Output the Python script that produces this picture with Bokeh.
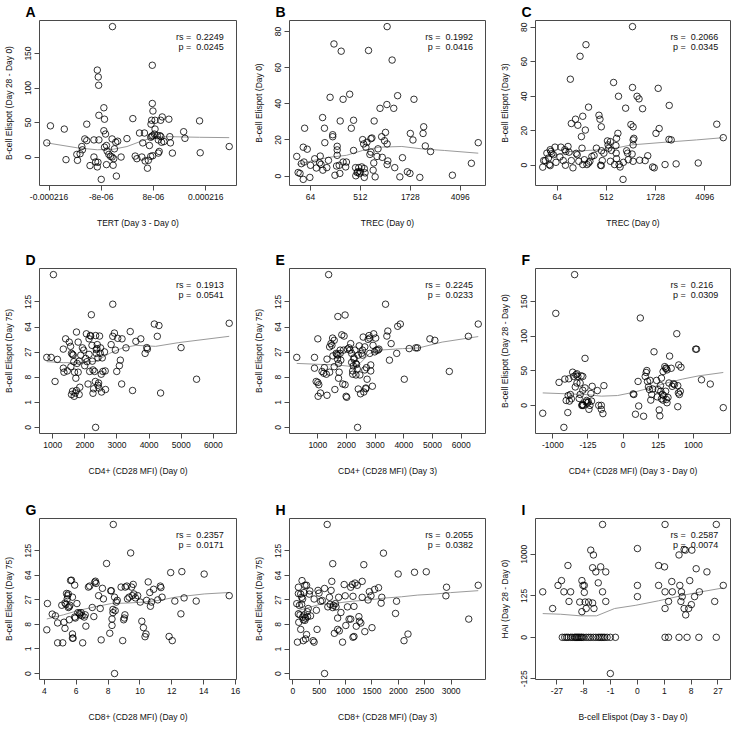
from bokeh.plotting import figure
from bokeh.layouts import gridplot
from bokeh.models import FixedTicker, Label, Range1d
from bokeh.embed import file_html
from bokeh.resources import INLINE

FONT = "Liberation Sans"

# ---------------- Panel A : TERT (cube-root scale) vs B-cell Elispot (Day 28 - Day 0)
a_x = [-0.0617, -0.0589, -0.0483, -0.0470, -0.0387, -0.0349, -0.0344, -0.0362, -0.0382, -0.0311,
       -0.0326, -0.0311, -0.0286, -0.0256, -0.0256, -0.0243, -0.0230, -0.0225, -0.0218, -0.0230,
       -0.0223, -0.0220, -0.0218, -0.0180, -0.0175, -0.0180, -0.0167, -0.0200, -0.0175, -0.0160,
       -0.0155, -0.0142, -0.0129, -0.0117, -0.0104, -0.0099, -0.0117, -0.0089, -0.0074, -0.0084,
       -0.0160, -0.0109, -0.0048, -0.0114, -0.0003, 0.0042, 0.0060, 0.0073, 0.0093, 0.0111,
       0.0118, 0.0131, 0.0136, 0.0154, 0.0161, 0.0169, 0.0179, 0.0186, 0.0194, 0.0179,
       0.0194, 0.0191, 0.0191, 0.0196, 0.0186, 0.0212, 0.0181, 0.0212, 0.0207, 0.0229,
       0.0249, 0.0257, 0.0237, 0.0237, 0.0244, 0.0255, 0.0267, 0.0280, 0.0262, 0.0318,
       0.0325, 0.0330, 0.0345, 0.0431, 0.0441, 0.0553, 0.0558, 0.0780]
a_y = [20.5, 45.2, 40.5, -3.8, 3.8, 15.2, 10.5, 4.8, -4.8, 47.6,
       26.2, 23.8, -12.4, 0, 24.8, -7.1, -14.3, -7.6, 24.8, 126,
       116, 104, 60.5, 71.4, 54.8, 38.1, 33.3, -32.4, 14.3, 16.7,
       8.6, 3.8, 1, 0, -2.4, 11.9, 26.2, 21.4, 22.9, -27.6,
       -11, -11.9, 0, 189, 26.7, 55.7, 1.4, -2.4, 34.8, 0,
       20.5, 34.8, -5.7, -16.2, -4.8, 16.7, 28.6, 30, 31, 1,
       1.9, 133, 77.6, 66.7, 53.3, 53.3, 47.6, 40.5, 33.3, 31,
       31, 29.5, 24.8, 5.7, 8.1, 53.3, 58.1, 22.4, 21.4, 54.8,
       29.5, 20.5, 5.7, 36.7, 27.1, 52.4, 6.2, 15.2]
a_fit_x = [-0.0617, -0.0382, -0.0230, -0.0104, -0.0003, 0.0098, 0.0199, 0.0325, 0.0553, 0.0780]
a_fit_y = [20.5, 13.3, 10.5, 11.4, 15.2, 22.4, 28.6, 29.5, 28.6, 28.1]
a_xticks = [-0.06, -0.02, 0.02, 0.06]
a_xlabels = ["-0.000216", "-8e-06", "8e-06", "0.000216"]
a_yticks = [0, 50, 100, 150]

# ---------------- Panel B : TREC Day 0 (cube-root) vs B-cell Elispot Day 0
b_x = [2.90, 3.01, 3.16, 3.27, 3.42, 3.48, 3.53, 3.42, 3.74, 3.95,
       4.00, 4.34, 4.47, 4.78, 4.73, 4.84, 4.97, 4.99, 5.12, 5.15,
       5.31, 5.57, 5.44, 5.78, 5.78, 6.14, 6.14, 6.14, 6.09, 5.96,
       5.88, 6.38, 6.46, 6.35, 6.30, 6.61, 6.61, 6.82, 6.88, 7.14,
       7.27, 7.45, 7.45, 7.61, 7.63, 7.74, 7.87, 7.79, 7.92, 8.00,
       8.10, 8.18, 8.26, 8.31, 8.37, 8.31, 8.44, 8.52, 8.65, 8.76,
       8.84, 8.84, 8.92, 9.02, 9.10, 9.07, 9.18, 9.33, 9.41, 9.57,
       9.70, 9.75, 9.93, 10.01, 10.12, 10.14, 10.14, 10.20, 10.14, 10.54,
       10.67, 10.75, 10.98, 11.16, 11.37, 11.76, 11.97, 12.00, 12.21, 12.29,
       12.76, 13.07, 13.02, 13.20, 13.62, 15.37, 16.89, 17.44]
b_y = [10.9, 2.0, 1.5, 6.9, -1.8, 7.8, 26.5, 16.0, 14.9, -0.7,
       6.0, 9.6, 4.5, 11.1, 7.3, 6.5, 32.4, 3.3, 26.5, 18.5,
       4.7, 43.6, 8.7, 22.9, 21.8, 16.5, 14.5, 11.5, 5.6, 0.5,
       73.1, 30.5, 69.1, 1.5, 6.0, 42.5, 7.8, 5.1, 7.8, 45.3,
       26.5, 30.9, 14.2, 4.7, 0.2, 2.0, 4.7, 2.4, 1.5, 2.4,
       5.1, 20.2, 17.8, 4.2, 1.8, -0.7, 16.0, 18.7, 69.5, 12.0,
       20.7, 13.3, 21.1, 3.3, 30.5, 7.3, -0.4, 10.9, 15.1, 37.5,
       21.8, 10.4, 19.6, 24.2, 39.6, 82.7, 17.8, 8.4, 6.4, 64.2,
       37.5, 4.7, 44.5, -0.4, 10.2, 2.4, 1.5, 23.6, 20.0, 42.5,
       -0.7, 27.3, 23.6, 16.7, 13.6, 0.5, 7.1, 18.5]
b_fit_x = [2.95, 4.26, 5.57, 6.88, 8.18, 9.49, 11.32, 12.89, 14.72, 17.44]
b_fit_y = [6.5, 8.7, 10.5, 11.5, 14.2, 16.0, 16.4, 15.1, 14.2, 12.7]
trec_ticks = [4, 8, 12, 16]
trec_labels = ["64", "512", "1728", "4096"]
bc_yticks = [0, 20, 40, 60, 80]

# ---------------- Panel C : TREC Day 0 (cube-root) vs B-cell Elispot Day 3
c_x = [2.81, 2.89, 3.02, 3.15, 3.28, 3.36, 3.42, 3.42, 3.47, 3.55,
       3.68, 3.89, 3.81, 4.21, 4.29, 4.48, 4.61, 4.66, 4.69, 4.87,
       4.95, 5.06, 5.14, 5.14, 5.27, 5.48, 5.54, 5.62, 5.67, 5.75,
       5.85, 5.96, 6.01, 6.07, 6.07, 6.20, 6.33, 6.28, 6.41, 6.54,
       6.54, 6.65, 6.81, 6.99, 7.18, 7.39, 7.47, 7.52, 7.58, 7.58,
       7.60, 7.66, 7.79, 8.08, 8.13, 8.19, 8.32, 8.32, 8.40, 8.58,
       8.66, 8.77, 8.79, 8.82, 8.82, 8.93, 8.98, 9.03, 9.11, 9.35,
       9.38, 9.56, 9.64, 9.72, 9.77, 9.99, 10.09, 10.12, 10.17, 10.17,
       10.17, 10.17, 10.12, 10.23, 10.49, 10.65, 10.70, 10.94, 11.15, 11.36,
       11.76, 11.89, 12.03, 12.21, 12.29, 12.77, 13.11, 13.09, 13.27, 13.67,
       15.47, 16.98, 17.51]
c_y = [-1.1, 2.7, 2.7, 7.0, 4.2, 0.4, 9.0, -0.2, 8.0, 6.7,
       6.1, 1.7, 10.5, 4.8, 10.5, 2.7, 9.0, 0, 8.0, 10.9,
       7.6, 49.9, 24.2, 2.7, -1.5, 26.7, 6.9, 6.1, 23.2, 2.3,
       63.2, 16.6, 9.9, 28.4, 0.4, 3.2, 69.9, 20.4, 0.4, 33.7,
       1.3, 2.3, 5.1, 5.7, 9.9, 29.0, 26.7, 0, 22.3, -0.2,
       8.4, 2.7, 7.0, 14.1, 11.8, 9.9, 13.7, 2.3, 8.6, 48.0,
       0.4, 11.4, 7.0, 3.8, 15.6, 18.5, 40.0, 0.4, -1.0, -8.2,
       1.7, 33.1, 8.4, 7.0, 3.2, 23.6, 6.5, 45.1, 22.3, 14.7,
       11.8, 2.3, 80.4, 15.6, 40.0, 38.5, 2.9, 32.8, 2.7, 5.5,
       -1.0, -1.5, 18.5, 44.6, 21.3, 0.4, 34.7, 15.0, 14.7, 0.8,
       1.3, 23.8, 16.0]
c_fit_x = [2.89, 3.95, 5.01, 6.07, 7.39, 8.72, 10.04, 12.69, 15.34, 17.51]
c_fit_y = [4.2, 6.1, 8.0, 8.4, 9.0, 9.9, 11.8, 13.3, 14.7, 16.0]

# ---------------- Panel D : CD4+ CD28 MFI Day 0 vs B-cell Elispot Day 75 (cube-root)
d_x = [815, 949, 1072, 1144, 1329, 1329, 1349, 1401, 1452, 1514,
       1555, 1565, 1585, 1616, 1637, 1657, 1678, 1719, 1739, 1739,
       1760, 1791, 1791, 1822, 1822, 1842, 1873, 1924, 1965, 1996,
       2027, 2048, 2068, 2099, 2130, 2130, 2150, 2171, 2181, 2202,
       2222, 2232, 2253, 2253, 2273, 2304, 2325, 2335, 2356, 2356,
       2376, 2386, 2407, 2407, 2428, 2438, 2458, 2479, 2489, 2510,
       2520, 2541, 2561, 2612, 2633, 2643, 2818, 2869, 2869, 2920,
       2951, 2992, 3023, 3075, 3105, 3146, 3157, 3280, 3413, 3485,
       3588, 3742, 3876, 3927, 3947, 4163, 4256, 4307, 4358, 4995,
       5478, 6494, 1021, 2335, 1585, 1668, 1616, 1698]
d_y = [2.79, 2.79, 1.83, 2.71, 2.36, 3.12, 2.20, 3.53, 2.25, 3.40,
       3.23, 2.42, 2.95, 2.91, 2.88, 2.62, 2.20, 1.96, 1.47, 3.80,
       2.55, 3.40, 2.20, 2.64, 1.31, 1.60, 2.88, 3.17, 3.08, 2.46,
       2.75, 3.73, 2.62, 1.73, 2.91, 3.53, 2.23, 3.66, 3.64, 4.49,
       3.27, 2.64, 2.29, 1.36, 1.54, 2.23, 1.83, 3.66, 3.10, 2.95,
       3.14, 3.30, 2.77, 1.68, 1.77, 1.57, 3.64, 2.95, 3.17, 2.12,
       1.41, 2.77, 2.23, 3.01, 2.25, 1.51, 3.30, 4.91, 3.63, 3.76,
       3.08, 2.23, 3.55, 2.46, 2.68, 1.73, 3.53, 3.17, 3.82, 1.47,
       3.43, 3.53, 2.95, 3.18, 3.12, 4.12, 3.63, 4.06, 1.37, 3.18,
       1.92, 4.15, 6.09, 0.0, 1.31, 1.24, 1.44, 1.37]
d_fit_x = [815, 1329, 1842, 2356, 2767, 3177, 3588, 4204, 4923, 6494]
d_fit_y = [2.62, 2.58, 2.58, 2.64, 2.95, 3.17, 3.27, 3.23, 3.38, 3.63]
d_xticks = [1000, 2000, 3000, 4000, 5000, 6000]
cube_yticks = [0, 1, 2, 3, 4, 5]
cube_ylabels = ["0", "1", "8", "27", "64", "125"]

# ---------------- Panel E : CD4+ CD28 MFI Day 3 vs B-cell Elispot Day 75 (cube-root)
e_x = [264, 883, 883, 941, 998, 998, 1032, 1009, 1090, 1147,
       1204, 1227, 1296, 1319, 1319, 1411, 1411, 1457, 1491, 1514,
       1526, 1571, 1594, 1571, 1640, 1663, 1686, 1698, 1721, 1721,
       1743, 1778, 1778, 1801, 1835, 1870, 1893, 1915, 1950, 1984,
       2007, 1950, 2030, 2088, 2122, 2145, 2179, 2179, 2214, 2214,
       2237, 2260, 2260, 2294, 2328, 2328, 2351, 2374, 2409, 2409,
       2443, 2466, 2489, 2523, 2558, 2558, 2581, 2604, 2638, 2638,
       2673, 2673, 2695, 2718, 2753, 2787, 2810, 2810, 2845, 2845,
       2902, 2925, 2948, 2982, 3017, 3040, 3097, 3131, 2386, 3361,
       3407, 3441, 3498, 3556, 3751, 3785, 3877, 4015, 4187, 4416,
       4473, 4909, 5081, 5586, 6251, 6595, 1376, 1698]
e_y = [2.79, 2.79, 2.36, 1.83, 1.79, 3.53, 1.70, 1.24, 1.37, 2.23,
       2.16, 2.38, 2.12, 2.72, 1.28, 2.20, 3.21, 3.34, 3.27, 3.56,
       2.85, 2.42, 1.51, 3.47, 2.95, 2.91, 2.72, 2.88, 2.55, 1.96,
       2.20, 3.08, 2.95, 2.68, 3.69, 1.73, 3.08, 3.64, 1.70, 1.24,
       1.20, 4.48, 3.12, 3.17, 3.08, 3.34, 2.95, 2.59, 2.25, 2.12,
       2.45, 2.72, 2.77, 3.08, 2.55, 2.09, 2.51, 2.33, 1.53, 2.88,
       3.25, 2.09, 1.34, 2.95, 2.88, 3.08, 3.60, 1.41, 3.21, 2.29,
       1.57, 1.54, 2.38, 1.92, 3.51, 3.66, 3.56, 2.95, 2.25, 2.49,
       1.64, 3.27, 3.73, 3.01, 3.56, 3.08, 3.08, 3.12, 0, 4.91,
       3.64, 3.84, 2.68, 3.34, 2.95, 4.03, 4.12, 1.92, 3.14, 3.17,
       3.17, 3.53, 3.47, 2.23, 3.63, 4.12, 6.09, 4.42]
e_fit_x = [264, 1090, 1663, 2237, 2466, 2810, 3154, 3957, 4530, 5334, 6595]
e_fit_y = [2.55, 2.51, 2.49, 2.42, 2.55, 2.95, 3.08, 3.14, 3.17, 3.40, 3.62]
e_xticks = [0, 1000, 2000, 3000, 4000, 5000, 6000]

# ---------------- Panel F : CD4+ CD28 MFI change (cube-root) vs B-cell Elispot (Day 28 - Day 0)
f_x = [-11.44, -9.58, -9.12, -8.43, -8.29, -8.10, -7.87, -7.73, -7.82, -7.64,
       -7.50, -7.36, -7.18, -7.04, -6.90, -6.81, -6.71, -6.57, -6.57, -6.44,
       -6.25, -6.11, -6.11, -5.97, -5.88, -5.79, -5.79, -5.74, -5.74, -5.65,
       -5.42, -5.42, -5.28, -5.19, -5.05, -4.95, -4.86, -4.72, -4.58, -4.49,
       -4.40, -3.66, -3.47, -3.10, -3.10, -2.87, -2.73, 1.44, 1.53, 1.76,
       2.13, 2.22, 2.45, 2.92, 3.15, 3.29, 3.38, 3.47, 3.61, 3.75,
       3.84, 3.94, 4.07, 4.21, 4.40, 4.77, 4.86, 5.00, 5.14, 5.23,
       5.32, 5.37, 5.46, 5.46, 5.60, 5.69, 5.69, 5.79, 5.93, 6.06,
       6.06, 6.16, 6.16, 6.25, 6.25, 6.39, 6.53, 6.62, 6.85, 6.99,
       7.18, 7.31, 7.64, 7.78, 7.78, 7.87, 7.92, 8.01, 8.24, 8.15,
       10.32, 10.46, 11.16, 12.41, 14.26]
f_y = [-11.4, 132.9, 33.2, -31.8, 38.0, 7.1, -10.4, 38.4, 14.2, 6.2,
       15.7, 9.5, 47.9, 41.8, 188.9, 26.6, 44.1, 45.6, 32.3, 41.8,
       10.0, 32.3, 15.7, 42.7, 0, 1.4, 0, 21.8, 41.8, 0,
       67.9, 25.2, 4.7, 7.1, 3.8, 5.2, -5.7, 0, 17.1, 6.2,
       27.5, 21.4, 0, -5.7, 0, -11.9, 28.5, 16.6, 15.7, -12.8,
       34.6, -0.9, 126.2, -15.7, 41.8, 47.5, 50.3, 34.6, 26.6, 22.8,
       36.1, 7.6, 15.7, 23.7, 77.4, 36.1, 12.3, 22.8, -6.6, -15.2,
       28.5, 20.4, 9.5, 39.4, 15.7, 7.6, 48.9, 14.2, 56.0, 53.6,
       20.4, 53.6, 8.5, 51.3, 3.8, 11.4, 32.3, 71.2, 53.6, 27.5,
       31.3, 29.9, 103.5, 28.5, -1.9, 18.0, 58.4, 15.7, 55.1, 20.4,
       81.2, 81.2, 37.0, 30.8, -3.3]
f_fit_x = [-11.44, -7.73, -5.42, -3.10, -0.79, 1.53, 3.84, 6.16, 8.47, 10.79, 14.26]
f_fit_y = [18.0, 16.6, 15.7, 13.3, 14.2, 19.0, 25.2, 32.3, 38.0, 42.7, 47.5]
f_xticks = [-10, -5, 0, 5, 10]
f_xlabels = ["-1000", "-125", "0", "125", "1000"]

# ---------------- Panel G : CD8+ CD28 MFI Day 0 vs B-cell Elispot Day 75 (cube-root)
g_x = [4.16, 4.20, 4.50, 4.70, 4.84, 4.84, 5.10, 5.16, 5.24, 5.30,
       5.30, 5.36, 5.40, 5.44, 5.46, 5.51, 5.51, 5.57, 5.57, 5.61,
       5.65, 5.71, 5.77, 5.77, 5.77, 5.81, 5.91, 5.91, 5.95, 6.05,
       6.11, 6.21, 6.25, 6.31, 6.37, 6.41, 6.51, 6.57, 6.61, 6.77,
       6.85, 7.01, 7.11, 7.17, 7.21, 7.25, 7.41, 7.51, 7.57, 7.65,
       7.71, 7.91, 8.11, 8.17, 8.21, 8.25, 8.25, 8.31, 8.31, 8.41,
       8.45, 8.52, 8.58, 8.33, 8.41, 8.82, 8.92, 8.98, 9.02, 9.06,
       9.08, 9.18, 9.22, 9.32, 9.42, 9.48, 9.52, 9.58, 9.62, 9.72,
       9.86, 10.02, 10.12, 10.22, 10.32, 10.38, 10.42, 10.52, 10.62, 10.66,
       10.72, 10.86, 11.12, 11.28, 11.32, 11.39, 11.83, 11.93, 12.03, 12.19,
       12.63, 12.57, 12.77, 13.53, 14.03, 15.60]
g_y = [1.78, 2.85, 2.42, 2.35, 2.06, 1.25, 2.78, 1.25, 2.09, 2.87,
       1.84, 2.82, 3.26, 3.04, 3.17, 3.24, 2.69, 2.72, 2.19, 2.78,
       3.79, 3.80, 3.11, 1.61, 1.44, 1.44, 3.60, 2.30, 2.26, 2.85,
       2.48, 2.45, 2.39, 2.48, 2.35, 1.25, 2.30, 2.39, 1.93, 3.52,
       3.56, 2.69, 2.32, 3.72, 3.76, 3.67, 3.17, 2.65, 1.37, 3.47,
       3.04, 4.48, 1.64, 3.37, 3.37, 2.22, 1.96, 2.61, 2.48, 3.11,
       2.56, 2.91, 2.98, 6.07, 0, 3.52, 1.34, 2.19, 2.26, 2.39,
       3.52, 3.56, 3.04, 3.11, 4.91, 3.52, 3.17, 3.63, 3.24, 3.08,
       3.17, 2.91, 2.13, 1.87, 1.50, 1.61, 2.98, 3.73, 3.30, 2.74,
       2.91, 3.43, 3.00, 3.56, 3.50, 3.11, 1.51, 4.11, 1.34, 2.95,
       4.15, 2.43, 3.08, 2.95, 4.05, 3.17]
g_fit_x = [4.16, 5.20, 6.21, 7.21, 8.21, 9.22, 10.22, 11.22, 12.23, 14.03, 15.60]
g_fit_y = [2.22, 2.39, 2.58, 2.72, 2.85, 2.87, 2.91, 2.98, 3.11, 3.24, 3.30]
g_xticks = [4, 6, 8, 10, 12, 14, 16]

# ---------------- Panel H : CD8+ CD28 MFI Day 3 vs B-cell Elispot Day 75 (cube-root)
h_x = [74, 87, 105, 105, 105, 112, 124, 136, 149, 149,
       167, 167, 174, 186, 186, 198, 198, 211, 211, 229,
       229, 242, 242, 260, 260, 273, 279, 291, 310, 322,
       335, 384, 403, 403, 446, 459, 477, 496, 527, 558,
       601, 601, 663, 694, 707, 725, 738, 756, 769, 787,
       806, 818, 849, 849, 868, 880, 911, 942, 973, 992,
       1004, 1035, 1066, 1097, 1097, 1128, 1140, 1140, 1159, 1159,
       1178, 1202, 1221, 1252, 1264, 1289, 1314, 1314, 1345, 1364,
       1426, 1450, 1481, 1500, 1550, 1624, 1673, 1686, 1717, 1946,
       1965, 1996, 2107, 2182, 2306, 2529, 2901, 2913, 3334, 3514,
       651, 756]
h_y = [2.85, 1.28, 3.26, 3.52, 2.43, 2.09, 2.78, 2.39, 3.24, 1.80,
       3.11, 2.82, 3.79, 3.04, 2.30, 2.19, 1.34, 2.39, 3.30, 2.17,
       3.60, 2.26, 1.41, 3.60, 1.59, 2.52, 2.32, 2.65, 3.24, 3.37,
       2.35, 1.34, 3.04, 1.28, 2.58, 1.80, 3.39, 3.28, 2.95, 2.98,
       3.47, 0, 2.72, 3.11, 2.82, 3.39, 3.76, 2.69, 2.78, 1.64,
       2.85, 2.72, 2.26, 1.80, 3.11, 1.74, 2.49, 1.28, 3.63, 3.17,
       1.96, 2.72, 2.22, 3.52, 2.22, 3.63, 3.15, 1.48, 2.74, 1.51,
       3.69, 1.93, 3.60, 2.32, 2.13, 2.06, 3.76, 3.11, 4.44, 1.71,
       3.00, 3.34, 3.17, 1.87, 3.43, 3.50, 2.87, 3.11, 4.91, 2.45,
       2.95, 4.06, 1.34, 1.61, 4.13, 4.15, 3.17, 3.52, 2.22, 3.60,
       6.08, 4.48]
h_fit_x = [74, 508, 818, 1128, 1438, 1748, 2058, 2368, 2678, 2987, 3514]
h_fit_y = [2.55, 2.82, 2.87, 2.95, 3.00, 3.08, 3.13, 3.20, 3.24, 3.30, 3.38]
h_xticks = [0, 500, 1000, 1500, 2000, 2500, 3000]

# ---------------- Panel I : B-cell Elispot change (cube-root) vs HAI change (cube-root)
i_x = [-1.30, 1.03, 2.94, -3.53, -3.16, -2.96, -2.83, -2.74, -2.59, -2.55,
       -2.49, -2.15, -2.07, -2.03, -1.98, -1.98, -1.95, -1.91, -2.07, -1.82,
       -1.74, -1.67, -1.67, -1.64, -1.62, -1.55, -1.46, -1.37, -1.30, -1.18,
       -1.18, -1.01, 0.00, 0.00, 0.00, 0.79, 0.79, 1.01, 1.03, 1.03,
       1.16, 1.28, 1.30, 1.55, 1.58, 1.62, 1.64, 1.67, 1.74, 1.79,
       1.74, 1.80, 1.91, 1.95, 2.01, 2.03, 2.13, 2.19, 2.31, 2.59,
       2.88, 3.20]
i_y = [13.59, 13.59, 13.59, 5.48, 3.47, 6.25, 6.83, 5.48, 8.65, 4.32,
       5.48, 4.25, 6.83, 6.25, 6.25, 5.41, 4.25, 3.47, 3.09, 4.25,
       10.50, 8.38, 4.13, 9.92, 3.47, 7.88, 6.56, 8.49, 5.48, 7.88,
       4.32, -4.36, 10.69, 6.25, 4.90, 8.65, 6.25, 8.49, 5.48, 3.47,
       4.32, 6.72, 5.48, 9.92, 6.25, 4.32, 5.48, 4.90, 10.58, 10.50,
       3.47, 2.70, 3.47, 6.83, 3.94, 10.50, 4.90, 8.26, 5.48, 7.88,
       4.32, 6.25]
# subjects with no HAI change (HAI Day 28 - Day 0 = 0)
i_zero_x = [-2.80, -2.71, -2.64, -2.58, -2.49, -2.43, -2.35, -2.31, -2.27, -2.23,
            -2.19, -2.15, -2.10, -2.07, -2.01, -1.91, -1.82, -1.74, -1.64, -1.55,
            -1.46, -1.40, -1.34, -1.28, -1.22, -1.13, -1.01, -0.82, 1.03, 1.16,
            1.55, 1.85, 2.29, 2.94]
i_fit_x = [-3.53, -2.86, -2.13, -1.52, -0.85, -0.06, 0.79, 1.76, 2.37, 3.20]
i_fit_y = [2.86, 2.78, 2.59, 2.59, 3.47, 3.86, 4.40, 5.10, 5.48, 5.95]
i_xticks = [-3, -2, -1, 0, 1, 2, 3]
i_xlabels = ["-27", "-8", "-1", "0", "1", "8", "27"]
i_yticks = [-5, 0, 5, 10]
i_ylabels = ["-125", "0", "125", "1000"]

stats_rs = ["0.2249", "0.1992", "0.2066", "0.1913", "0.2245", "0.216", "0.2357", "0.2055", "0.2587"]
stats_p = ["0.0245", "0.0416", "0.0345", "0.0541", "0.0233", "0.0309", "0.0171", "0.0382", "0.0074"]

# ---------------- layout (page pixels)
COL_FW = [197, 196, 195]
COL_LEFT = [38, 44, 46]
COL_RIGHT = [9, 4, 3]
ROW_FH = [165, 165, 161]
ROW_TOP = [16, 22, 22]
ROW_BOTTOM = [61, 63, 45]
TITLE_OFFSET = -14

TXT = "#111111"
BOX = "#4a4a4a"
FS = "8.5px"
FS_STAT = "9px"


def rng(vals):
    lo, hi = min(vals), max(vals)
    pad = 0.04 * (hi - lo)
    return Range1d(lo - pad, hi + pad)


def panel(idx, letter, xs, ys, fx, fy, xt, xl, yt, yl, xtitle, ytitle):
    r, c = divmod(idx, 3)
    xr, yr = rng(xs), rng(ys)
    p = figure(frame_width=COL_FW[c], frame_height=ROW_FH[r], x_range=xr, y_range=yr,
               output_backend="svg", toolbar_location=None,
               min_border_left=COL_LEFT[c], min_border_right=COL_RIGHT[c],
               min_border_top=ROW_TOP[r], min_border_bottom=ROW_BOTTOM[r], title=letter)
    p.background_fill_color = "white"
    p.border_fill_color = "white"
    p.grid.visible = False
    p.outline_line_color = BOX
    p.outline_line_width = 1

    p.title.text_font = FONT
    p.title.text_font_size = "14px"
    p.title.text_font_style = "bold"
    p.title.text_color = "black"
    p.title.align = "left"
    p.title.offset = TITLE_OFFSET
    p.title.standoff = 2

    p.line(fx, fy, line_color="#9a9a9a", line_width=1)
    p.scatter(xs, ys, marker="circle", size=6.5, fill_color=None,
              line_color="black", line_width=0.8)

    p.xaxis.ticker = FixedTicker(ticks=xt)
    p.yaxis.ticker = FixedTicker(ticks=yt)
    if xl is not None:
        p.xaxis.major_label_overrides = {t: l for t, l in zip(xt, xl)}
    if yl is not None:
        p.yaxis.major_label_overrides = {t: l for t, l in zip(yt, yl)}
    p.xaxis.axis_label = xtitle
    p.yaxis.axis_label = ytitle
    for ax in (p.xaxis[0], p.yaxis[0]):
        ax.axis_line_color = None
        ax.major_tick_line_color = BOX
        ax.major_tick_out = 5
        ax.major_tick_in = 0
        ax.minor_tick_line_color = None
        ax.major_label_text_font = FONT
        ax.major_label_text_font_size = FS
        ax.major_label_text_color = TXT
        ax.major_label_standoff = 3
        ax.axis_label_text_font = FONT
        ax.axis_label_text_font_size = FS
        ax.axis_label_text_font_style = "normal"
        ax.axis_label_text_color = TXT
    p.xaxis.axis_label_standoff = 15
    p.yaxis.axis_label_standoff = 9
    p.yaxis.major_label_orientation = "vertical"

    xe = xr.start + 0.77 * (xr.end - xr.start)
    for text, off in (("rs =", -16), ("p =", -26)):
        p.add_layout(Label(x=xe, y=yr.end, text=text, text_align="right",
                           text_baseline="middle", y_offset=off, text_font=FONT,
                           text_font_size=FS_STAT, text_color=TXT))
    for text, off in ((stats_rs[idx], -16), (stats_p[idx], -26)):
        p.add_layout(Label(x=xe, y=yr.end, text=text, text_align="left",
                           text_baseline="middle", x_offset=5, y_offset=off,
                           text_font=FONT, text_font_size=FS_STAT, text_color=TXT))
    return p


ELI75 = "B-cell Elispot (Day 75)"
plots = [
    panel(0, "A", a_x, a_y, a_fit_x, a_fit_y, a_xticks, a_xlabels, a_yticks, None,
          "TERT (Day 3 - Day 0)", "B-cell Elispot (Day 28 - Day 0)"),
    panel(1, "B", b_x, b_y, b_fit_x, b_fit_y, trec_ticks, trec_labels, bc_yticks, None,
          "TREC (Day 0)", "B-cell Elispot (Day 0)"),
    panel(2, "C", c_x, c_y, c_fit_x, c_fit_y, trec_ticks, trec_labels, bc_yticks, None,
          "TREC (Day 0)", "B-cell Elispot (Day 3)"),
    panel(3, "D", d_x, d_y, d_fit_x, d_fit_y, d_xticks, None, cube_yticks, cube_ylabels,
          "CD4+ (CD28 MFI) (Day 0)", ELI75),
    panel(4, "E", e_x, e_y, e_fit_x, e_fit_y, e_xticks, None, cube_yticks, cube_ylabels,
          "CD4+ (CD28 MFI) (Day 3)", ELI75),
    panel(5, "F", f_x, f_y, f_fit_x, f_fit_y, f_xticks, f_xlabels, a_yticks, None,
          "CD4+ (CD28 MFI) (Day 3 - Day 0)", "B-cell Elispot (Day 28 - Day 0)"),
    panel(6, "G", g_x, g_y, g_fit_x, g_fit_y, g_xticks, None, cube_yticks, cube_ylabels,
          "CD8+ (CD28 MFI) (Day 0)", ELI75),
    panel(7, "H", h_x, h_y, h_fit_x, h_fit_y, h_xticks, None, cube_yticks, cube_ylabels,
          "CD8+ (CD28 MFI) (Day 3)", ELI75),
    panel(8, "I", i_x + i_zero_x, i_y + [0] * len(i_zero_x), i_fit_x, i_fit_y,
          i_xticks, i_xlabels, i_yticks, i_ylabels,
          "B-cell Elispot (Day 3 - Day 0)", "HAI (Day 28 - Day 0)"),
]

grid = gridplot([plots[0:3], plots[3:6], plots[6:9]], toolbar_location=None)

with open("out.html", "w") as fh:
    fh.write(file_html(grid, INLINE))
